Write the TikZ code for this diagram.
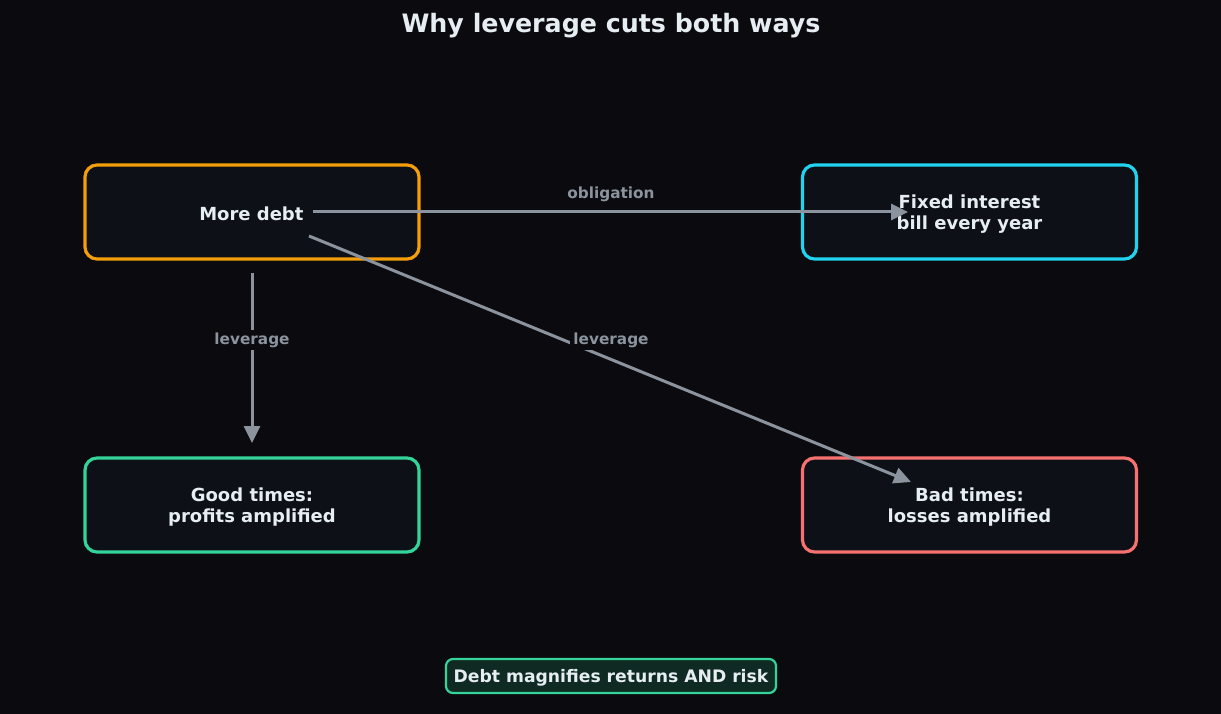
\documentclass[tikz,border=0pt]{standalone}
\usepackage{fontspec}
\setmainfont{DejaVu Sans}
\usetikzlibrary{arrows.meta}
\definecolor{bg}{HTML}{0B0B0F}
\definecolor{boxfill}{HTML}{0D1117}
\definecolor{txt}{HTML}{E6EDF3}
\definecolor{arr}{HTML}{8B949E}
\definecolor{corange}{HTML}{F59E0B}
\definecolor{ccyan}{HTML}{22D3EE}
\definecolor{cgreen}{HTML}{34D399}
\definecolor{cred}{HTML}{F87171}
\definecolor{notefill}{HTML}{0F2A22}
\tikzset{
  box/.style={draw, line width=3.2pt, rounded corners=12pt, fill=boxfill,
    minimum width=334pt, minimum height=94pt, text=txt, align=center,
    font=\bfseries\fontsize{18}{20.5}\selectfont},
  conn/.style={draw=arr, line width=3pt, -{Triangle[length=17pt,width=16pt]}},
  lbl/.style={text=arr, font=\bfseries\fontsize{15.3}{18}\selectfont, inner sep=3pt},
}
\begin{document}
\begin{tikzpicture}[x=1pt,y=-1pt]
\fill[bg] (0,0) rectangle (1221,714);
\useasboundingbox (0,0) rectangle (1221,714);
\node[text=txt, font=\bfseries\fontsize{25.3}{29}\selectfont] (title) at (611,26) {Why leverage cuts both ways};
\node[box, draw=corange] (debt) at (252,212) {\phantom{x}};
\node[box, draw=ccyan] (fixed) at (969.5,212) {};
\node[box, draw=cgreen] (good) at (252,505) {};
\node[box, draw=cred] (bad) at (969.5,505) {};
\node[text=txt, align=center, font=\bfseries\fontsize{18}{20.5}\selectfont] (fixedlbl) at (969.5,214) {Fixed interest\\bill every year};
\node[text=txt, align=center, font=\bfseries\fontsize{18}{20.5}\selectfont] (goodlbl) at (252,507) {Good times:\\profits amplified};
\node[text=txt, align=center, font=\bfseries\fontsize{18}{20.5}\selectfont] (badlbl) at (969.5,507) {Bad times:\\losses amplified};
\node[text=txt, font=\bfseries\fontsize{18}{20.5}\selectfont, anchor=east] (debtlbl) at (307,214) {More debt};
\coordinate (o1) at (313,212);
\coordinate (o2) at (908,212);
\coordinate (v1) at (252,273);
\coordinate (v2) at (252,443);
\coordinate (d1) at (309,236);
\coordinate (d2) at (911,482);
\draw[conn] (o1) -- (o2);
\node[lbl] (lobl) at (611,194) {obligation};
\draw[conn] (v1) -- (v2);
\node[lbl, fill=bg] (llev1) at (252,340) {leverage};
\draw[conn] (d1) -- (d2);
\node[lbl, fill=bg] (llev2) at (611,340) {leverage};
\node[draw=cgreen, line width=2.2pt, rounded corners=7pt, fill=notefill,
  minimum width=330pt, minimum height=34pt] (note) at (611,676) {};
\node[text=txt, font=\bfseries\fontsize{17.2}{20}\selectfont] (notelbl) at (611,678) {Debt magnifies returns AND risk};
\end{tikzpicture}
\end{document}
